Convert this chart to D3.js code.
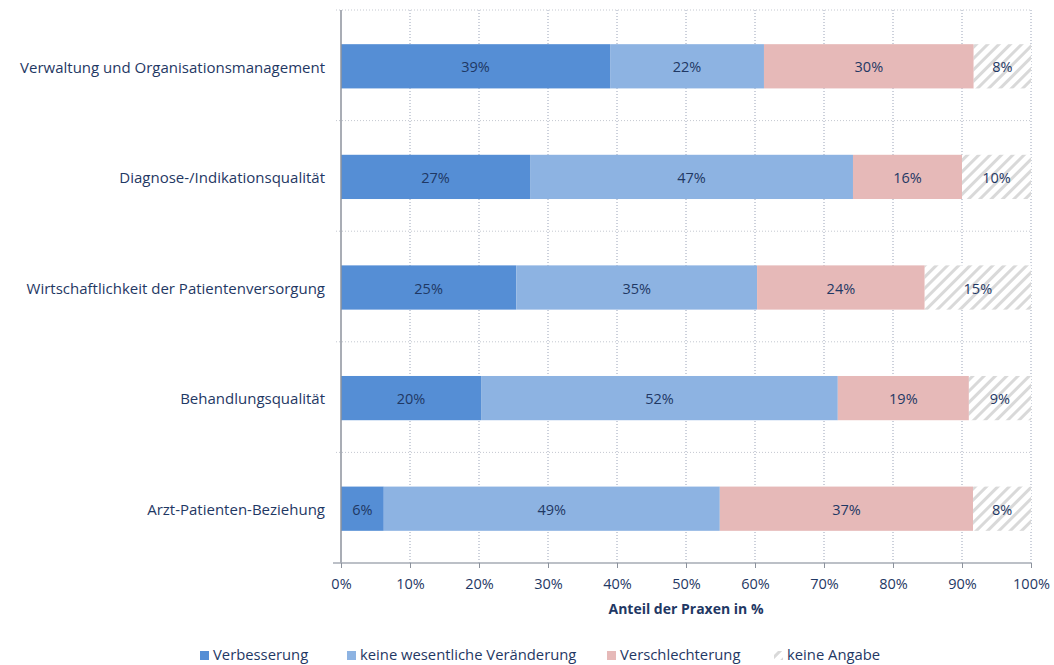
<!DOCTYPE html>
<html>
<head>
<meta charset="utf-8">
<script src="https://cdn.jsdelivr.net/npm/d3@7"></script>
<style>
  body { margin: 0; background: #fff; }
  svg text { font-family: "Open Sans", Lato, sans-serif; fill: #1f3864; }
</style>
</head>
<body>
<div id="chart"></div>
<script>
// categories, top to bottom
const categories = [
  "Verwaltung und Organisationsmanagement",
  "Diagnose-/Indikationsqualität",
  "Wirtschaftlichkeit der Patientenversorgung",
  "Behandlungsqualität",
  "Arzt-Patienten-Beziehung"
];
const seriesNames = ["Verbesserung", "keine wesentliche Veränderung", "Verschlechterung", "keine Angabe"];
// shares in %
const verbesserung = [39.0, 27.4, 25.4, 20.3, 6.2];
const keineVeraenderung = [22.3, 46.8, 34.9, 51.7, 48.7];
const verschlechterung = [30.4, 15.8, 24.3, 19.0, 36.7];
const keineAngabe = [8.3, 10.0, 15.4, 9.0, 8.4];
const xTicks = [0, 10, 20, 30, 40, 50, 60, 70, 80, 90, 100];

const colors = ["#558ed5", "#8db3e2", "#e6b9b8", "url(#hatch)"];

const width = 1054, height = 665;
const margin = {top: 10, right: 23, bottom: 102, left: 341};

const svg = d3.select("#chart").append("svg")
  .attr("width", width)
  .attr("height", height);

// hatch pattern for "keine Angabe"
const defs = svg.append("defs");
const pat = defs.append("pattern")
  .attr("id", "hatch")
  .attr("patternUnits", "userSpaceOnUse")
  .attr("width", 8).attr("height", 8)
  .attr("patternTransform", "rotate(45)");
pat.append("rect").attr("width", 8).attr("height", 8).attr("fill", "#fff");
pat.append("rect").attr("width", 3).attr("height", 8).attr("fill", "#d9d9d9");

const innerW = width - margin.left - margin.right;
const innerH = height - margin.top - margin.bottom;

const g = svg.append("g").attr("transform", `translate(${margin.left},${margin.top})`);

const x = d3.scaleLinear().domain([0, 100]).range([0, innerW]);
const y = d3.scaleBand().domain(categories).range([0, innerH]).paddingInner(0.6).paddingOuter(0.3);
const yb = d3.scaleBand().domain(categories).range([0, innerH]);

// vertical dotted grid
g.append("g").selectAll("line")
  .data(xTicks.slice(1))
  .join("line")
  .attr("x1", d => x(d)).attr("x2", d => x(d))
  .attr("y1", 0).attr("y2", innerH)
  .attr("stroke", "#9aa3b8")
  .attr("stroke-width", 1)
  .attr("stroke-dasharray", "1,2");

// horizontal dotted grid at category boundaries
g.append("g").selectAll("line")
  .data(categories)
  .join("line")
  .attr("x1", -5).attr("x2", innerW)
  .attr("y1", d => yb(d)).attr("y2", d => yb(d))
  .attr("stroke", "#c4c8d0")
  .attr("stroke-width", 1)
  .attr("stroke-dasharray", "1,2");

// stacked data
const rows = categories.map((c, i) => ({
  cat: c,
  vals: [verbesserung[i], keineVeraenderung[i], verschlechterung[i], keineAngabe[i]]
}));
const segs = [];
rows.forEach(r => {
  let acc = 0;
  r.vals.forEach((v, k) => {
    segs.push({cat: r.cat, k: k, x0: acc, x1: acc + v, v: v});
    acc += v;
  });
});

g.append("g").selectAll("rect")
  .data(segs)
  .join("rect")
  .attr("x", d => x(d.x0))
  .attr("y", d => y(d.cat) + 1)
  .attr("width", d => x(d.x1) - x(d.x0))
  .attr("height", y.bandwidth())
  .attr("fill", d => colors[d.k]);

g.append("g").selectAll("text")
  .data(segs)
  .join("text")
  .attr("x", d => x((d.x0 + d.x1) / 2))
  .attr("y", d => y(d.cat) + y.bandwidth() / 2 + 2)
  .attr("dy", "0.35em")
  .attr("text-anchor", "middle")
  .style("font-size", "14.5px")
  .text(d => Math.round(d.v) + "%");

// y axis line
g.append("line")
  .attr("x1", 0).attr("x2", 0)
  .attr("y1", 0).attr("y2", innerH)
  .attr("stroke", "#8c929c").attr("stroke-width", 1.5);

// x axis
const xAxis = g.append("g")
  .attr("transform", `translate(0,${innerH})`)
  .call(d3.axisBottom(x).tickValues(xTicks).tickFormat(d => d + "%").tickSize(5).tickSizeOuter(0));
xAxis.select(".domain").attr("stroke", "#a6abb5").attr("stroke-width", 1.5).attr("d", `M-8,0H${innerW}`);
xAxis.selectAll(".tick line").attr("stroke", "#8c929c");
xAxis.selectAll("text")
  .attr("y", 16)
  .style("font-size", "14.5px")
  .style("fill", "#1f3864");

// category labels
g.append("g").selectAll("text")
  .data(categories)
  .join("text")
  .attr("x", -16)
  .attr("y", d => y(d) + y.bandwidth() / 2 + 2)
  .attr("dy", "0.35em")
  .attr("text-anchor", "end")
  .style("font-size", "15px")
  .text(d => d);

// axis title
svg.append("text")
  .attr("x", margin.left + innerW / 2)
  .attr("y", 614)
  .attr("text-anchor", "middle")
  .style("font-size", "14px")
  .style("font-weight", "bold")
  .text("Anteil der Praxen in %");

// legend
const legendX = [200, 347, 607, 774];
const legend = svg.append("g").selectAll("g")
  .data(seriesNames)
  .join("g")
  .attr("transform", (d, i) => `translate(${legendX[i]},655)`);
legend.append("rect")
  .attr("x", 0).attr("y", -4)
  .attr("width", 9).attr("height", 9)
  .attr("fill", (d, i) => colors[i]);
legend.append("text")
  .attr("x", 13)
  .attr("y", 0)
  .attr("dy", "0.35em")
  .style("font-size", "14.8px")
  .text(d => d);
</script>
</body>
</html>
